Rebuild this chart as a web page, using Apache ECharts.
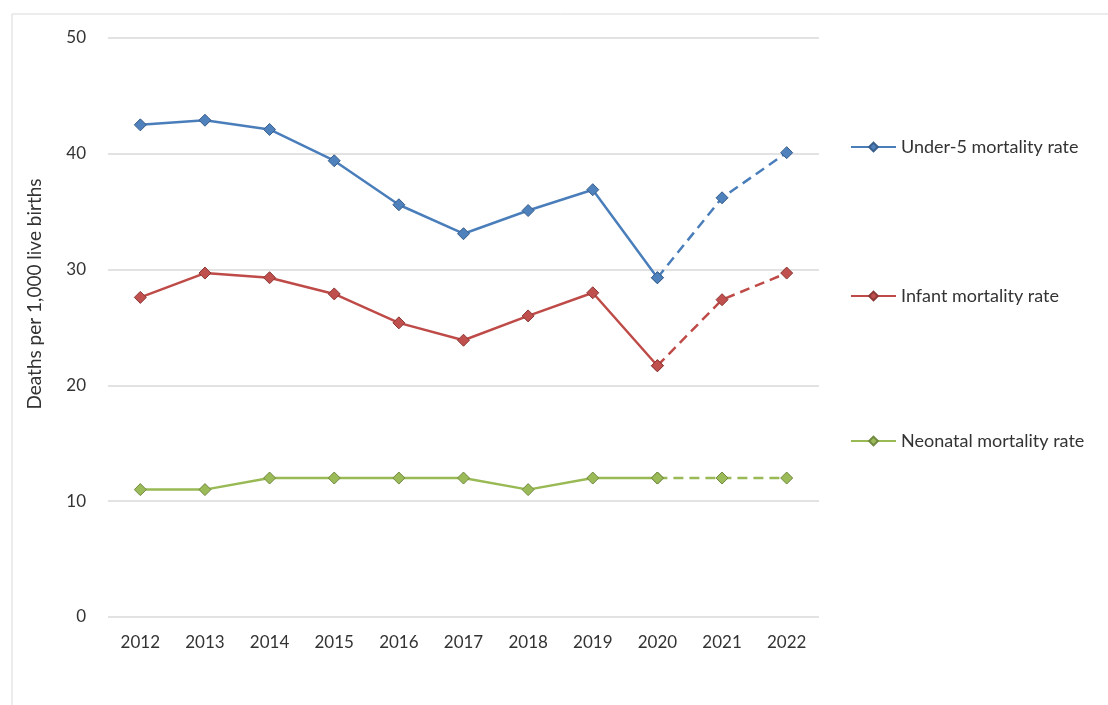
<!DOCTYPE html>
<html>
<head>
<meta charset="utf-8">
<style>
  html, body { margin: 0; padding: 0; background: #fff; }
  #chart { width: 1108px; height: 705px; }
</style>
<script src="https://cdn.jsdelivr.net/npm/echarts@6/dist/echarts.min.js"></script>
</head>
<body>
<div id="chart"></div>
<script>
// data
var years = ['2012', '2013', '2014', '2015', '2016', '2017', '2018', '2019', '2020', '2021', '2022'];
var under5 = [42.5, 42.9, 42.1, 39.4, 35.6, 33.1, 35.1, 36.9, 29.3, 36.2, 40.1];
var infant = [27.6, 29.7, 29.3, 27.9, 25.4, 23.9, 26.0, 28.0, 21.7, 27.4, 29.7];
var neonatal = [11, 11, 12, 12, 12, 12, 11, 12, 12, 12, 12];
var yTicks = [0, 10, 20, 30, 40, 50];
var seriesNames = ['Under-5 mortality rate', 'Infant mortality rate', 'Neonatal mortality rate'];
var yTitle = 'Deaths per 1,000 live births';
var projFrom = 8; // 2020 onward is dashed

var lineColors = ['#4a7ebb', '#be4b48', '#98b954'];
var fillColors = ['#4f81bd', '#c0504d', '#9bbb59'];
var edgeColors = ['#385d8a', '#8c3836', '#71893f'];
var font = 'Lato';

var myChart = echarts.init(document.getElementById('chart'));

function actualPart(arr) {
    return arr.map(function (v, i) { return i <= projFrom ? v : '-'; });
}
function projPart(arr) {
    return arr.map(function (v, i) { return i >= projFrom ? v : '-'; });
}

var series = [];
[under5, infant, neonatal].forEach(function (arr, k) {
    var itemStyle = { color: fillColors[k], borderColor: edgeColors[k], borderWidth: 1 };
    series.push({
        name: seriesNames[k],
        type: 'line',
        data: actualPart(arr),
        symbol: 'diamond',
        symbolSize: 12,
        lineStyle: { color: lineColors[k], width: 2.5 },
        itemStyle: itemStyle,
        z: 3
    });
    series.push({
        name: seriesNames[k] + ' (projected)',
        type: 'line',
        data: projPart(arr),
        symbol: 'diamond',
        symbolSize: 12,
        lineStyle: { color: lineColors[k], width: 2.5, type: [10, 6] },
        itemStyle: itemStyle,
        z: 2
    });
});

var legendTops = [133, 282, 427];
var legends = seriesNames.map(function (n, k) {
    return {
        data: [n],
        left: 845,
        top: legendTops[k],
        itemWidth: 45,
        itemHeight: 11,
        itemGap: 5,
        selectedMode: false,
        textStyle: { fontSize: 18, color: '#333', fontFamily: font }
    };
});

var option = {
    animation: false,
    backgroundColor: '#fff',
    graphic: [{
        type: 'rect',
        shape: { x: 12, y: 14, width: 1200, height: 800 },
        style: { fill: 'none', stroke: '#d9d9d9', lineWidth: 1 },
        silent: true
    }, {
        // y axis title, sits a bit above the plot's middle
        type: 'text',
        x: 35,
        y: 294,
        rotation: Math.PI / 2,
        style: {
            text: yTitle,
            fill: '#333',
            font: '19px Lato',
            align: 'center',
            verticalAlign: 'middle'
        },
        silent: true
    }],
    grid: { left: 108, right: 289, top: 38, bottom: 88 },
    legend: legends,
    xAxis: {
        type: 'category',
        data: years,
        axisLine: { show: false },
        axisTick: { show: false },
        axisLabel: { fontSize: 17, color: '#333', margin: 17, fontFamily: font }
    },
    yAxis: {
        type: 'value',
        min: yTicks[0],
        max: yTicks[yTicks.length - 1],
        interval: 10,
        axisLabel: { fontSize: 17, color: '#333', margin: 22, fontFamily: font },
        splitLine: { lineStyle: { color: '#d9d9d9', width: 1.5 } }
    },
    series: series
};

myChart.setOption(option, true);
</script>
</body>
</html>
